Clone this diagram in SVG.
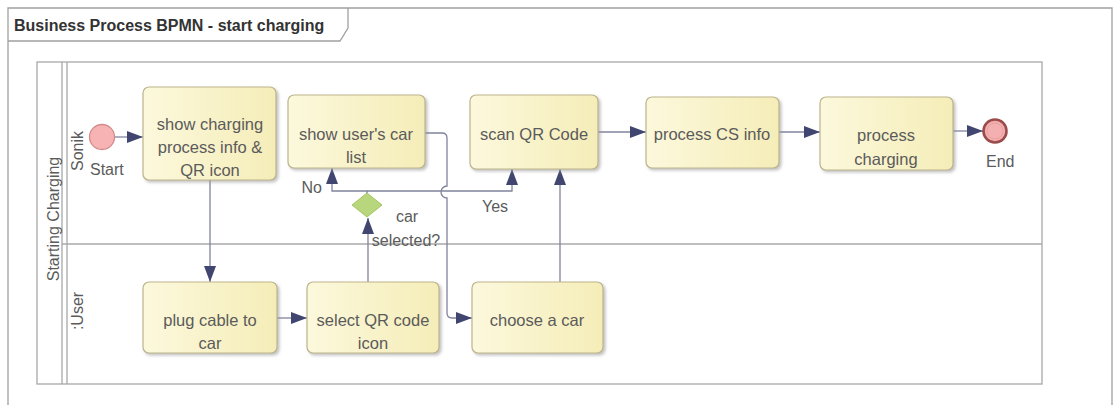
<svg xmlns="http://www.w3.org/2000/svg" width="1117" height="405" viewBox="0 0 1117 405">
<style>
.frame{fill:none;stroke:#a0a0a0;stroke-width:1.3}
.pool{fill:none;stroke:#a8a8a8;stroke-width:1.3}
.task{fill:url(#tg);stroke:#bdb58c;stroke-width:1.2;filter:url(#sh)}
.t{font-family:"Liberation Sans",Arial,sans-serif;font-size:16.5px;fill:#5b5b5b;text-anchor:middle}
.l{font-family:"Liberation Sans",Arial,sans-serif;font-size:16px;fill:#5b5b5b}
.title{font-family:"Liberation Sans",Arial,sans-serif;font-size:16px;font-weight:bold;fill:#333}
.conn{fill:none;stroke:#80839c;stroke-width:1.3}
.arr{marker-end:url(#ah)}
</style>
<defs>
<linearGradient id="tg" x1="0" y1="0" x2="1" y2="0">
<stop offset="0" stop-color="#fcf8dc"/>
<stop offset="1" stop-color="#f5edb8"/>
</linearGradient>
<filter id="sh" x="-10%" y="-10%" width="125%" height="130%">
<feDropShadow dx="2" dy="2" stdDeviation="1.5" flood-color="#999" flood-opacity="0.6"/>
</filter>
<marker id="ah" markerUnits="userSpaceOnUse" markerWidth="17" markerHeight="13" refX="16" refY="6" orient="auto">
<path d="M0,0 L16,6 L0,12 z" fill="#414670"/>
</marker>
</defs>

<g id="frame">
<path class="frame" d="M8,405 L8,8 L1112,8 L1112,405"/>
<path class="frame" d="M8,41 L340,41 L348,28 L348,8"/>
<text class="title" x="14" y="31">Business Process BPMN - start charging</text>
</g>

<g id="pool">
<rect class="pool" x="37" y="62" width="1005" height="322"/>
<line class="pool" x1="62" y1="62" x2="62" y2="384"/>
<line class="pool" x1="67" y1="62" x2="67" y2="384"/>
<line class="pool" x1="62" y1="244" x2="1042" y2="244"/>
<text class="l" transform="translate(59,219) rotate(-90)" text-anchor="middle">Starting Charging</text>
<text class="l" transform="translate(83,151) rotate(-90)" text-anchor="middle">Sonik</text>
<text class="l" transform="translate(83,311) rotate(-90)" text-anchor="middle">:User</text>
</g>

<g id="connectors">
<path class="conn arr" d="M115,137 L143,137"/>
<path class="conn arr" d="M210,180 L210,282"/>
<path class="conn arr" d="M277,318 L307,318"/>
<path class="conn arr" d="M368,282 L368,218"/>
<path class="conn arr" d="M367,193 L367,191 L332,191 L332,168"/>
<path class="conn arr" d="M367,191 L512,191 L512,169"/>
<path class="conn arr" d="M425,133 L442,133 Q447,133 447,138 L447,186 A6,6 0 0 0 447,198 L447,313 Q447,318 452,318 L472,318"/>
<path class="conn arr" d="M560,282 L560,169"/>
<path class="conn arr" d="M598,132 L646,132"/>
<path class="conn arr" d="M779,132 L820,132"/>
<path class="conn arr" d="M953,131 L983,131"/>
<text class="l" x="322" y="193" text-anchor="end">No</text>
<text class="l" x="482" y="212">Yes</text>
</g>

<g id="start">
<circle cx="102" cy="137" r="12.5" fill="#f7b3b3" stroke="#d38a8a" stroke-width="1.3"/>
<text class="l" x="90" y="175">Start</text>
</g>

<g id="end">
<circle cx="995" cy="131" r="11.5" fill="#f4b0b0" stroke="#9b4b4b" stroke-width="2.6"/>
<circle cx="995" cy="131" r="8" fill="none" stroke="#e59a9a" stroke-width="0.8"/>
<text class="l" x="986" y="167">End</text>
</g>

<g id="gateway">
<polygon points="367,193 382,205 367,217 352,205" fill="#b8d67c" stroke="#a3c466" stroke-width="1"/>
<text class="l" x="407" y="222" text-anchor="middle">car</text>
<text class="l" x="406" y="246" text-anchor="middle">selected?</text>
</g>

<g id="task-show-charging">
<rect class="task" x="143" y="87" width="133" height="93" rx="6"/>
<text class="t" x="210" y="130">show charging</text>
<text class="t" x="210" y="153">process info &amp;</text>
<text class="t" x="210" y="176">QR icon</text>
</g>

<g id="task-show-list">
<rect class="task" x="288" y="95" width="137" height="73" rx="6"/>
<text class="t" x="356" y="140">show user's car</text>
<text class="t" x="356" y="163">list</text>
</g>

<g id="task-scan">
<rect class="task" x="470" y="95" width="128" height="74" rx="6"/>
<text class="t" x="534" y="140">scan QR Code</text>
</g>

<g id="task-cs-info">
<rect class="task" x="646" y="97" width="133" height="71" rx="6"/>
<text class="t" x="712" y="140">process CS info</text>
</g>

<g id="task-charging">
<rect class="task" x="820" y="97" width="133" height="73" rx="6"/>
<text class="t" x="886" y="141">process</text>
<text class="t" x="886" y="165">charging</text>
</g>

<g id="task-plug">
<rect class="task" x="143" y="282" width="134" height="71" rx="6"/>
<text class="t" x="210" y="326">plug cable to</text>
<text class="t" x="210" y="349">car</text>
</g>

<g id="task-select">
<rect class="task" x="307" y="282" width="132" height="71" rx="6"/>
<text class="t" x="373" y="326">select QR code</text>
<text class="t" x="373" y="349">icon</text>
</g>

<g id="task-choose">
<rect class="task" x="472" y="282" width="131" height="71" rx="6"/>
<text class="t" x="537" y="326">choose a car</text>
</g>
</svg>
